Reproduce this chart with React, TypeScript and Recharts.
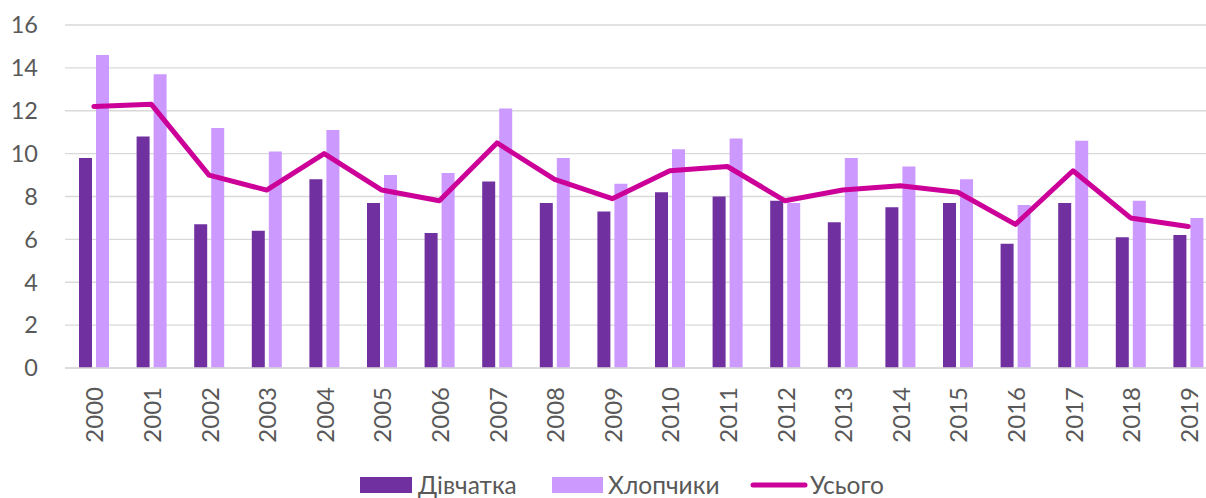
import React from "react";
import {
  ComposedChart,
  Bar,
  Line,
  XAxis,
  YAxis,
  CartesianGrid,
  Legend,
} from "recharts";

const years = [
  "2000", "2001", "2002", "2003", "2004", "2005", "2006", "2007", "2008", "2009",
  "2010", "2011", "2012", "2013", "2014", "2015", "2016", "2017", "2018", "2019",
];
const girls = [9.8, 10.8, 6.7, 6.4, 8.8, 7.7, 6.3, 8.7, 7.7, 7.3, 8.2, 8.0, 7.8, 6.8, 7.5, 7.7, 5.8, 7.7, 6.1, 6.2];
const boys = [14.6, 13.7, 11.2, 10.1, 11.1, 9.0, 9.1, 12.1, 9.8, 8.6, 10.2, 10.7, 7.7, 9.8, 9.4, 8.8, 7.6, 10.6, 7.8, 7.0];
const total = [12.2, 12.3, 9.0, 8.3, 10.0, 8.3, 7.8, 10.5, 8.8, 7.9, 9.2, 9.4, 7.8, 8.3, 8.5, 8.2, 6.7, 9.2, 7.0, 6.6];
const yTicks = [0, 2, 4, 6, 8, 10, 12, 14, 16];
const seriesNames = ["Дівчатка", "Хлопчики", "Усього"];

const data = years.map((y, i) => ({
  year: y,
  girls: girls[i],
  boys: boys[i],
  total: total[i],
}));

const FONT = "Lato, 'Open Sans', sans-serif";
const TEXT = "#595959";
const C_GIRLS = "#7030A0";
const C_BOYS = "#CC99FF";
const C_TOTAL = "#CC0099";

const XTick = (props: any) => {
  const { x, y, payload } = props;
  const ty = y + 11;
  return (
    <text
      x={x}
      y={ty}
      transform={`rotate(-90, ${x}, ${ty})`}
      textAnchor="end"
      dominantBaseline="central"
      fill={TEXT}
      fontFamily={FONT}
      fontSize={24}
    >
      {payload.value}
    </text>
  );
};

const LegendContent = () => {
  const item = (swatch: React.ReactNode, label: string, width: number | undefined, textGap: number) => (
    <div style={{ display: "flex", alignItems: "center", width, flex: "none" }}>
      {swatch}
      <span style={{ marginLeft: textGap, fontFamily: FONT, fontSize: 24.5, color: TEXT, lineHeight: "26px", whiteSpace: "nowrap" }}>
        {label}
      </span>
    </div>
  );
  return (
    <div style={{ display: "flex", alignItems: "center", paddingLeft: 360, height: 26 }}>
      {item(<div style={{ width: 52, height: 16, background: C_GIRLS }} />, seriesNames[0], 192, 6)}
      {item(<div style={{ width: 51, height: 16, background: C_BOYS }} />, seriesNames[1], 198, 5)}
      {item(
        <svg width={58} height={10} style={{ display: "block" }}>
          <line x1={3} y1={5} x2={55} y2={5} stroke={C_TOTAL} strokeWidth={5} strokeLinecap="round" />
        </svg>,
        seriesNames[2],
        undefined,
        2
      )}
    </div>
  );
};

export default function App() {
  return (
    <div
      style={{
        position: "absolute",
        left: 0,
        top: 0,
        width: 1206,
        height: 498,
        overflow: "hidden",
        background: "#fff",
      }}
    >
      <ComposedChart
        width={1220}
        height={498}
        data={data}
        margin={{ top: 25, right: 3, left: 0, bottom: 0 }}
        barGap={4}
      >
        <CartesianGrid vertical={false} stroke="#D9D9D9" strokeWidth={1.3} />
        <XAxis
          dataKey="year"
          height={104}
          interval={0}
          tickLine={false}
          axisLine={{ stroke: "#D9D9D9", strokeWidth: 1.3 }}
          tick={<XTick />}
        />
        <YAxis
          width={65}
          domain={[0, 16]}
          ticks={yTicks}
          interval={0}
          axisLine={false}
          tickLine={false}
          tickSize={0}
          tickMargin={27}
          tick={{ fill: TEXT, fontFamily: FONT, fontSize: 23.5 }}
        />
        <Legend
          verticalAlign="bottom"
          align="left"
          height={26}
          wrapperStyle={{ left: 0, top: 472, bottom: "auto", width: 1220, height: 26 }}
          content={<LegendContent />}
        />
        <Bar dataKey="girls" name={seriesNames[0]} fill={C_GIRLS} barSize={13} isAnimationActive={false} />
        <Bar dataKey="boys" name={seriesNames[1]} fill={C_BOYS} barSize={13} isAnimationActive={false} />
        <Line
          dataKey="total"
          name={seriesNames[2]}
          type="linear"
          stroke={C_TOTAL}
          strokeWidth={5}
          strokeLinejoin="round"
          strokeLinecap="round"
          dot={false}
          activeDot={false}
          isAnimationActive={false}
        />
      </ComposedChart>
    </div>
  );
}
